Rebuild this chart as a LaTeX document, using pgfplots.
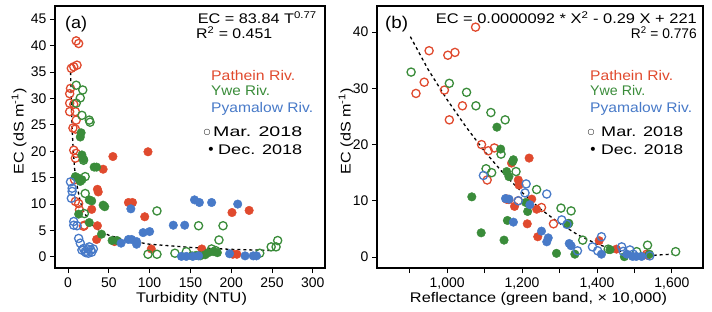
\documentclass[border=0pt]{standalone}
\usepackage{graphicx}
\usepackage{pgfplots}
\pgfplotsset{compat=1.18}
\usepackage{fontspec}
\setmainfont{Liberation Sans}
\newfontfamily\symfont{DejaVu Sans}
\definecolor{cred}{RGB}{224,74,46}
\definecolor{cgreen}{RGB}{58,140,58}
\definecolor{cblue}{RGB}{72,122,200}
\newcommand{\fw}[2]{\resizebox{#1bp}{\height}{#2}}
\pgfplotsset{
  basestyle/.style={
    scale only axis,
    axis line style={line width=1.6bp},
    tick style={line width=0.9bp, black},
    tick align=outside,
    major tick length=5bp,
    xtick pos=bottom, ytick pos=left,
    /pgf/number format/assume math mode=true,
    tick label style={font=\fontsize{14}{16}\selectfont},
    xticklabel style={yshift=-1.5bp},
    clip=true,
  },
  op/.style={only marks, mark=o, mark size=4.1bp, mark options={line width=1.3bp, draw=#1}},
  fl/.style={only marks, mark=*, mark size=4.3bp, mark options={draw=#1, fill=#1}},
  fitline/.style={no marks, black, line width=1.3bp, dash pattern=on 3bp off 3bp},
}
\begin{document}
\begin{tikzpicture}
\path[use as bounding box] (0bp,0bp) rectangle (712bp,312bp);
% ---------- panel (a)
\begin{axis}[basestyle, at={(55bp,44bp)}, anchor=south west, width=270bp, height=262bp,
  xmin=-16, xmax=315, ymin=-2.1, ymax=47.5,
  xtick={0,50,...,300}, ytick={0,5,...,45}]
\addplot[fitline] coordinates {(3.1,35) (4,29.2) (5,24.3) (6,21.1) (8,16.8) (10,14.3) (15,10.4) (20,8.3) (30,6.0) (40,4.8) (50,4.1) (70,3.2) (100,2.4) (150,1.8) (200,1.43) (253,1.2)};
\addplot[op=cred] coordinates {(10,40.9) (13,40.4) (7,36.0) (4,35.7) (11,36.3) (3,31.9) (2,30.9) (2,29.1) (7,28.9) (2,27.5) (9,27.5) (10,25.9) (6,24.4) (9,24.2) (7,20.2) (10,19.6) (9,18.7) (8,14.6) (9,10.5) (13,10.1) (14,8.9) (20,6.0) (19,5.8)};
\addplot[fl=cred] coordinates {(55,19.0) (98,19.9) (43,16.6) (36,12.8) (37,12.3) (29,9.0) (74,10.3) (79,10.3) (94,7.6) (36,5.9) (35,3.3) (57,2.9) (102,1.5) (164,1.5) (201,8.4) (222,8.8) (202,0.5) (207,0.5)};
\addplot[op=cgreen] coordinates {(10,32.5) (18,31.6) (15,30.1) (10,29.1) (17,26.8) (26,25.9) (27,25.5) (19,18.3) (21,15.2) (21,12.0) (20,8.2) (109,8.7) (160,5.9) (190,5.9) (98,0.5) (109,0.5) (131,0.7) (145,1.0) (176,1.5) (185,3.2) (235,0.7) (249,1.9) (255,1.9) (257,3.1) (181,1.2)};
\addplot[fl=cgreen] coordinates {(16,23.5) (15,22.7) (17,19.3) (19,18.5) (32,17.0) (35,17.0) (9,15.2) (13,14.9) (17,14.6) (15,14.3) (26,10.8) (29,10.6) (43,9.8) (45,9.5) (13,8.1) (26,6.5) (41,4.3) (54,3.1) (60,3.1) (152,0.2) (162,0.2) (168,0.4) (172,0.8) (178,1.0) (183,0.8) (157,0.3)};
\addplot[op=cblue] coordinates {(3,14.2) (5,13.0) (5,12.4) (4,11.1) (7,6.7) (7,6.0) (11,5.9) (13,3.5) (15,2.6) (19,1.6) (24,1.5) (28,1.3) (31,1.5) (25,0.7) (21,1.0) (17,1.3) (26,1.9) (22,0.8) (29,0.9)};
\addplot[fl=cblue] coordinates {(77,9.1) (129,6.0) (143,6.0) (92,4.6) (100,4.8) (74,3.3) (78,3.3) (84,2.9) (84,2.4) (65,2.6) (139,0.1) (145,0.1) (153,0.1) (160,0.2) (155,10.8) (161,10.3) (176,10.3) (208,10.0) (198,0.6) (217,0.2) (227,0.2) (231,0.2)};
\end{axis}
% ---------- panel (b)
\begin{axis}[basestyle, at={(377bp,44bp)}, anchor=south west, width=326bp, height=262bp,
  xmin=813, xmax=1683, ymin=-1.96, ymax=44.66,
  xtick={900,1000,...,1600}, xticklabels={,{1,000},,{1,200},,{1,400},,{1,600}},
  ytick={0,10,...,40}]
\addplot[fitline] coordinates {(902,39.2) (950,33.3) (1000,28) (1050,23.2) (1100,18.8) (1150,14.9) (1200,11.5) (1250,8.5) (1300,6.0) (1350,3.9) (1400,2.3) (1450,1.2) (1500,0.5) (1550,0.3) (1600,0.5)};
\addplot[op=cred] coordinates {(1076,40.9) (952,36.7) (1002,35.9) (1021,36.4) (939,31.1) (917,29.1) (993,29.7) (1041,26.9) (1006,24.4) (1092,20.0) (1110,18.9) (1126,19.4) (1107,13.7) (1159,10.3) (1190,10.0) (1252,8.8) (1284,5.9) (1533,0.5)};
\addplot[fl=cred] coordinates {(1219,17.6) (1172,16.7) (1190,13.7) (1192,12.8) (1226,10.3) (1180,9.0) (1239,8.5) (1214,5.9) (1242,3.6) (1406,2.9) (1452,1.4) (1535,0.3) (1165,10.2)};
\addplot[op=cgreen] coordinates {(904,32.9) (1006,30.9) (1052,29.3) (1077,26.9) (1117,25.7) (1155,24.4) (1144,18.3) (1104,15.7) (1119,15.0) (1184,15.2) (1239,12.0) (1304,8.7) (1331,8.2) (1323,5.9) (1362,3.0) (1430,1.4) (1506,0.95) (1535,2.1) (1610,0.95)};
\addplot[fl=cgreen] coordinates {(1133,23.1) (1143,19.2) (1177,17.3) (1175,17.0) (1159,15.2) (1165,14.3) (1066,10.7) (1210,9.7) (1215,8.1) (1161,6.5) (1091,4.3) (1152,3.0) (1292,0.65) (1341,0.5) (1473,0.05) (1540,0.5) (1325,6.0) (1435,1.3)};
\addplot[op=cblue] coordinates {(1097,14.5) (1211,13.0) (1208,11.4) (1266,11.2) (1190,10.0) (1306,6.6) (1320,5.8) (1412,3.6) (1348,1.1) (1388,1.8) (1402,1.1) (1466,1.8) (1470,1.0) (1488,1.25) (1541,0.2) (1497,0.5)};
\addplot[fl=cblue] coordinates {(1156,10.4) (1221,9.3) (1177,6.2) (1252,4.6) (1270,3.4) (1266,2.7) (1326,2.4) (1331,2.0) (1412,0.5) (1495,0.1) (1505,0.1) (1519,0.1) (1480,0.5) (1165,10.3)};
\end{axis}
% ---------- labels
\def\tl{\fontsize{14}{16}\selectfont}
\def\sm{\fontsize{14}{16}\selectfont}
\tikzset{t/.style={inner sep=0, font=\sm}}
\node[rotate=90, font=\tl] at (19bp,181bp) {\fw{86}{EC (dS m\textsuperscript{-1})}};
\node[rotate=90, font=\tl] at (346bp,181bp) {\fw{86}{EC (dS m\textsuperscript{-1})}};
\node[t, anchor=base] at (191.5bp,10bp) {\fw{111}{Turbidity (NTU)}};
\node[t, anchor=base] at (538.5bp,10bp) {\fw{257}{Reflectance (green band, × 10,000)}};
% panel a texts
\node[t, font=\fontsize{17}{19}\selectfont, anchor=base west] at (65bp,283bp) {\fw{22}{(a)}};
\node[t, anchor=base east] at (317bp,288bp) {\fw{119}{EC = 83.84 T\textsuperscript{0.77}}};
\node[t, anchor=base west] at (196bp,273bp) {\fw{76}{R\textsuperscript{2} = 0.451}};
\node[t, anchor=base west, text=cred] at (211bp,231.5bp) {\fw{84}{Pathein Riv.}};
\node[t, anchor=base west, text=cgreen] at (211bp,216bp) {\fw{59}{Ywe Riv.}};
\node[t, anchor=base west, text=cblue] at (211bp,199bp) {\fw{102}{Pyamalow Riv.}};
\node[t, anchor=base, font=\symfont\fontsize{8}{8}\selectfont] at (207bp,177bp) {○};
\node[t, anchor=base west] at (213bp,175bp) {\fw{89}{Mar. 2018}};
\node[t, anchor=base, font=\symfont\fontsize{14}{14}\selectfont] at (211bp,157bp) {•};
\node[t, anchor=base west] at (218bp,157bp) {\fw{84}{Dec. 2018}};
% panel b texts
\node[t, font=\fontsize{17}{19}\selectfont, anchor=base west] at (385bp,283bp) {\fw{23}{(b)}};
\node[t, anchor=base east] at (697bp,288.5bp) {\fw{261}{EC = 0.0000092 * X\textsuperscript{2} - 0.29 X + 221}};
\node[t, anchor=base east] at (697bp,273bp) {\fw{66}{R\textsuperscript{2} = 0.776}};
\node[t, anchor=base west, text=cred] at (590bp,231.5bp) {\fw{83}{Pathein Riv.}};
\node[t, anchor=base west, text=cgreen] at (590bp,216bp) {\fw{55}{Ywe Riv.}};
\node[t, anchor=base west, text=cblue] at (590bp,199bp) {\fw{102}{Pyamalow Riv.}};
\node[t, anchor=base, font=\symfont\fontsize{8}{8}\selectfont] at (591bp,177bp) {○};
\node[t, anchor=base west] at (601bp,175bp) {\fw{82}{Mar. 2018}};
\node[t, anchor=base, font=\symfont\fontsize{14}{14}\selectfont] at (593bp,157bp) {•};
\node[t, anchor=base west] at (601bp,157bp) {\fw{82}{Dec. 2018}};
\end{tikzpicture}
\end{document}
